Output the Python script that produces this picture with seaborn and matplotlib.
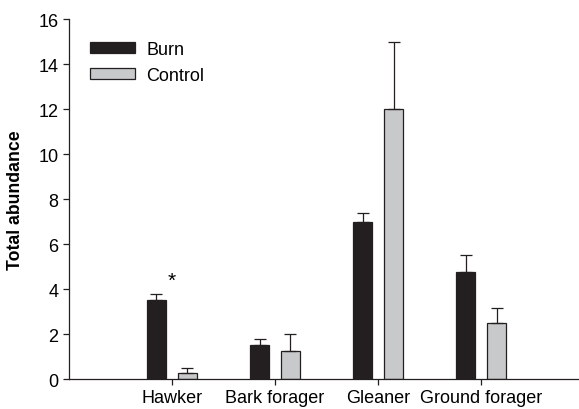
import matplotlib
matplotlib.use("Agg")
import matplotlib.pyplot as plt
import seaborn as sns
import pandas as pd
import numpy as np

categories = ["Hawker", "Bark forager", "Gleaner", "Ground forager"]
burn = [3.5, 1.5, 7.0, 4.75]
control = [0.25, 1.25, 12.0, 2.5]
burn_err = [0.3, 0.3, 0.4, 0.75]
control_err = [0.25, 0.75, 3.0, 0.65]
treatments = ["Burn", "Control"]

sns.set_theme(style="ticks")
plt.rcParams["font.family"] = ["Liberation Sans", "DejaVu Sans"]
plt.rcParams["text.color"] = "black"
plt.rcParams["xtick.labelcolor"] = "black"
plt.rcParams["ytick.labelcolor"] = "black"
plt.rcParams["axes.labelcolor"] = "black"

df = pd.DataFrame({
    "cat": categories * 2,
    "val": burn + control,
    "err": burn_err + control_err,
    "trt": [treatments[0]] * 4 + [treatments[1]] * 4,
})

fig = plt.figure(figsize=(5.79, 4.10), dpi=100)
ax = fig.add_axes([0.119, 0.073, 0.881, 0.878])

palette = {"Burn": "#231f20", "Control": "#c8c9cb"}
sns.barplot(data=df, x="cat", y="val", hue="trt", order=categories,
            hue_order=treatments, palette=palette, width=0.6, gap=0.38,
            edgecolor="#231f20", linewidth=0.9, saturation=1, ax=ax,
            errorbar=None, legend=True)

for cont, errs in zip(ax.containers, [burn_err, control_err]):
    for patch, e in zip(cont.patches, errs):
        xc = patch.get_x() + patch.get_width() / 2
        h = patch.get_height()
        ax.errorbar(xc, h, yerr=[[0], [e]], fmt="none", ecolor="#231f20",
                    elinewidth=0.9, capsize=4, capthick=0.9, zorder=3)

ax.text(0, 3.95, "*", ha="center", va="bottom", fontsize=15, color="black")

ax.set_xlim(-1.0, 3.95)
ax.set_ylim(0, 16)
ax.set_yticks(np.arange(0, 17, 2))
ax.set_xlabel("")
ax.set_ylabel("Total abundance", fontsize=12.7, fontweight="bold", labelpad=10)
ax.tick_params(axis="both", labelsize=13, direction="out", length=4, width=0.9, color="#231f20")
for s in ["top", "right"]:
    ax.spines[s].set_visible(False)
for s in ["left", "bottom"]:
    ax.spines[s].set_color("#231f20")
    ax.spines[s].set_linewidth(0.9)

leg = ax.legend(loc="upper left", bbox_to_anchor=(0.01, 0.985), frameon=False,
                fontsize=13, handlelength=2.5, handleheight=0.6, labelspacing=0.5,
                handletextpad=0.6, title=None)

fig.savefig("out.png", dpi=100)
